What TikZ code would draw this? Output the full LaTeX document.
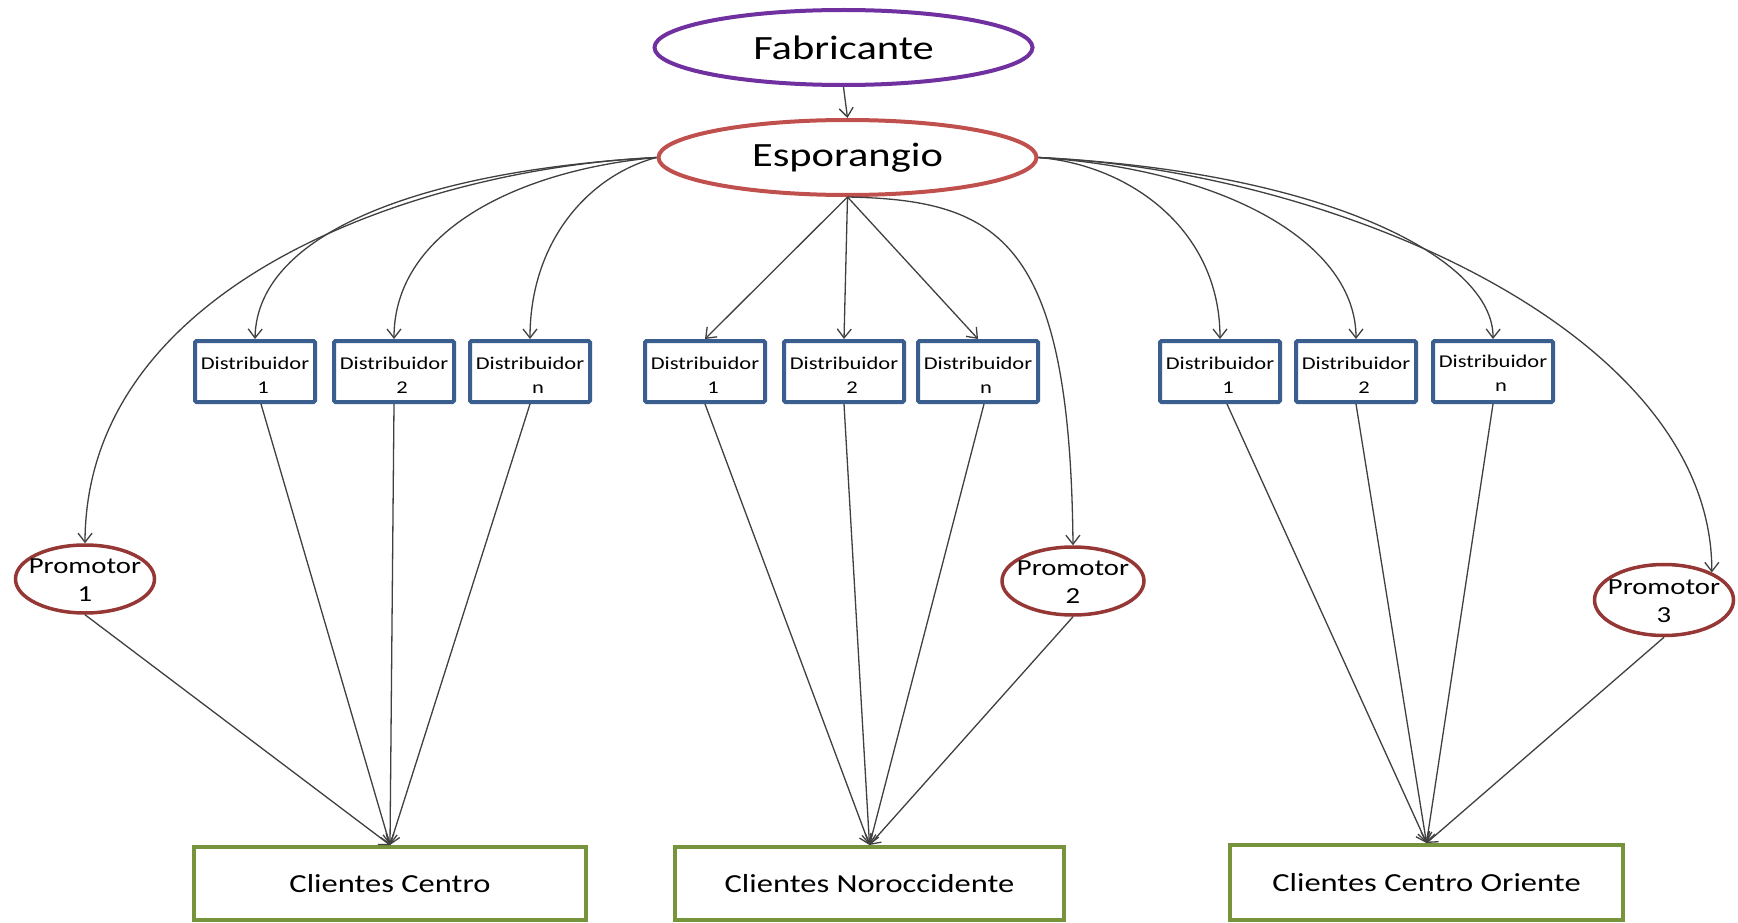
\documentclass[tikz,border=0pt]{standalone}
\usepackage{fontspec}
\setmainfont{Carlito}[FakeStretch=1.25]
\usetikzlibrary{arrows.meta,shapes.geometric}
\definecolor{fabc}{HTML}{7030A0}
\definecolor{espc}{HTML}{C0504D}
\definecolor{proc}{HTML}{953735}
\definecolor{disc}{HTML}{3A5F8E}
\definecolor{clic}{HTML}{77933C}
\definecolor{arrc}{HTML}{404040}
\begin{document}
\begin{tikzpicture}[x=1pt,y=-1pt,
  big/.style={ellipse, line width=4pt, inner sep=0pt, font=\fontsize{34}{40}\selectfont, minimum width=378pt, minimum height=75pt},
  distbox/.style={rectangle, draw=disc, line width=4pt, rounded corners=1.5pt, minimum width=120pt, minimum height=61pt, inner sep=0pt},
  disttext/.style={align=center, inner sep=0pt, yshift=-4pt, font=\fontsize{18}{24}\selectfont},
  prom/.style={ellipse, draw=proc, line width=3.5pt, inner sep=0pt, minimum width=139pt, minimum height=68pt},
  promtext/.style={align=center, inner sep=0pt, yshift=-1pt, font=\fontsize{23}{28}\selectfont},
  cli/.style={rectangle, draw=clic, line width=4pt, minimum height=73pt, inner sep=0pt, font=\fontsize{26}{30}\selectfont},
  arr/.style={draw=arrc, line width=1.3pt, -{Straight Barb[length=9pt,width=14pt]}},
]
\fill[white] (0,0) rectangle (1738,923);
\useasboundingbox (0,0) rectangle (1738,923);

% top ellipses
\node[big, draw=fabc] (fab) at (843.5,47.5) {Fabricante};
\node[big, draw=espc] (esp) at (847.5,157.5) {Esporangio};

% distribuidores
\node[distbox, label={[disttext]center:{Distribuidor\\\hspace*{0.9em}1}}] (a1) at (255,371.5) {};
\node[distbox, label={[disttext]center:{Distribuidor\\\hspace*{0.9em}2}}] (a2) at (394,371.5) {};
\node[distbox, label={[disttext]center:{Distribuidor\\\hspace*{0.9em}n}}] (a3) at (530,371.5) {};
\node[distbox, label={[disttext]center:{Distribuidor\\\hspace*{0.9em}1}}] (b1) at (705,371.5) {};
\node[distbox, label={[disttext]center:{Distribuidor\\\hspace*{0.9em}2}}] (b2) at (844,371.5) {};
\node[distbox, label={[disttext]center:{Distribuidor\\\hspace*{0.9em}n}}] (b3) at (978,371.5) {};
\node[distbox, label={[disttext]center:{Distribuidor\\\hspace*{0.9em}1}}] (c1) at (1220,371.5) {};
\node[distbox, label={[disttext]center:{Distribuidor\\\hspace*{0.9em}2}}] (c2) at (1356,371.5) {};
\node[distbox, label={[disttext,yshift=2pt]center:{Distribuidor\\\hspace*{0.9em}n}}] (c3) at (1493,371.5) {};

% promotores
\node[prom, label={[promtext]center:{Promotor\\1}}] (p1) at (85,579) {};
\node[prom, minimum width=142pt, label={[promtext]center:{Promotor\\2}}] (p2) at (1073,581) {};
\node[prom, minimum height=71pt, label={[promtext]center:{Promotor\\3}}] (p3) at (1664,600) {};

% clientes
\node[cli, minimum width=392pt] (cc) at (390,883.5) {Clientes Centro};
\node[cli, minimum width=389pt] (cn) at (869.5,883.5) {Clientes Noroccidente};
\node[cli, minimum width=393pt, minimum height=75pt] (co) at (1426.5,882.5) {Clientes Centro Oriente};

% connectors
\draw[arr] (fab.south) -- (esp.north);

\draw[arr] (esp.west) .. controls (425,168) and (86,280) .. (p1.north);
\draw[arr] (esp.west) .. controls (430,170) and (257,230) .. (a1.north);
\draw[arr] (esp.west) .. controls (520,170) and (394,230) .. (a2.north);
\draw[arr] (esp.west) .. controls (590,175) and (530,240) .. (a3.north);

\draw[arr] (esp.south) -- (b1.north);
\draw[arr] (esp.south) -- (b2.north);
\draw[arr] (esp.south) -- (b3.north);
\draw[arr] (esp.south) .. controls (1000,200) and (1070,240) .. (p2.north);

\draw[arr] (esp.east) .. controls (1130,165) and (1220,230) .. (c1.north);
\draw[arr] (esp.east) .. controls (1230,170) and (1356,245) .. (c2.north);
\draw[arr] (esp.east) .. controls (1330,172) and (1494,260) .. (c3.north);
\draw[arr] (esp.east) .. controls (1330,170) and (1712,330) .. (p3.30);

\draw[arr] (p1.south) -- (cc.north);
\draw[arr] ([xshift=6pt]a1.south) -- (cc.north);
\draw[arr] (a2.south) -- (cc.north);
\draw[arr] (a3.south) -- (cc.north);

\draw[arr] (b1.south) -- (cn.north);
\draw[arr] (b2.south) -- (cn.north);
\draw[arr] ([xshift=6pt]b3.south) -- (cn.north);
\draw[arr] (p2.south) -- (cn.north);

\draw[arr] ([xshift=7pt]c1.south) -- (co.north);
\draw[arr] (c2.south) -- (co.north);
\draw[arr] (c3.south) -- (co.north);
\draw[arr] (p3.south) -- (co.north);
\end{tikzpicture}
\end{document}
